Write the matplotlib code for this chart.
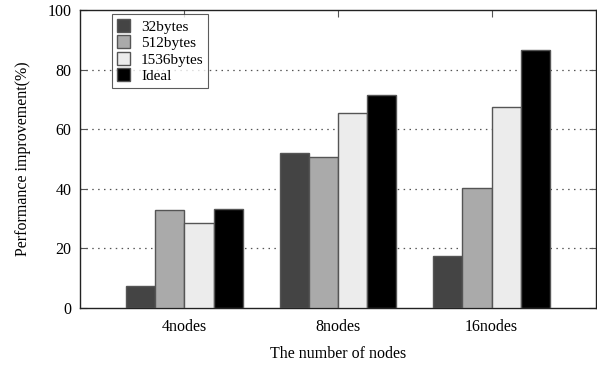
import numpy as np
import matplotlib
matplotlib.use('Agg')
import matplotlib.pyplot as plt

plt.rcParams['font.family'] = ['Liberation Serif', 'DejaVu Serif']

nodes = ['4nodes', '8nodes', '16nodes']
series = ['32bytes', '512bytes', '1536bytes', 'Ideal']
b32 = [7.4, 51.9, 17.4]
b512 = [32.8, 50.6, 40.3]
b1536 = [28.6, 65.3, 67.6]
ideal = [33.2, 71.4, 86.6]
colors = ['#444444', '#aaaaaa', '#ececec', '#000000']

fig = plt.figure(figsize=(5.97, 3.65), dpi=100)
ax = fig.add_axes([80/597, 1 - 308/365, 516/597, 298/365])

x = np.arange(len(nodes))
w = 0.19
for i, (vals, name) in enumerate(zip([b32, b512, b1536, ideal], series)):
    ax.bar(x + (i - 1.5) * w, vals, w, color=colors[i], edgecolor='#555555',
           linewidth=1, label=name, zorder=3)

ax.set_xlim(-0.68, 2.68)
ax.set_ylim(0, 100)
ax.set_yticks([0, 20, 40, 60, 80, 100])
ax.set_xticks(x)
ax.set_xticklabels(nodes)
for yv in [20, 40, 60, 80]:
    ax.axhline(yv, color='#555555', linestyle=(0, (1.2, 3.5)), linewidth=0.9, zorder=1)

ax.tick_params(direction='in', top=True, right=True, length=5, labelsize=11.5,
               width=0.8, color='#555555')
ax.tick_params(axis='x', bottom=False, pad=8)
ax.tick_params(axis='y', pad=6)
for s in ax.spines.values():
    s.set_linewidth(1)
    s.set_color('#222222')

ax.set_ylabel('Performance improvement(%)', fontsize=11.5, labelpad=12)
fig.text(338/597, 1 - 354/365, 'The number of nodes', fontsize=11.5,
         ha='center', va='center')

leg = ax.legend(loc='upper left', bbox_to_anchor=(0.062, 0.985), fontsize=11,
                frameon=True, fancybox=False, edgecolor='#333333',
                handlelength=0.9, handleheight=0.9, handletextpad=0.7,
                borderpad=0.3, labelspacing=0.12, borderaxespad=0)
leg.get_frame().set_linewidth(0.8)

fig.savefig('out.png', dpi=100)
